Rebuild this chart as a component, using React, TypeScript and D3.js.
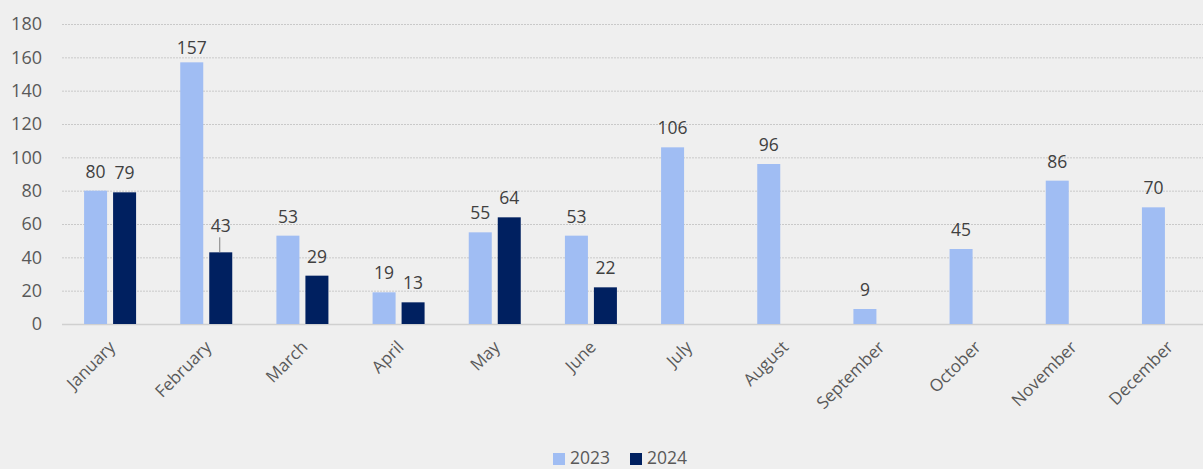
import React from "react";
import * as d3 from "d3";

const months = ["January","February","March","April","May","June","July","August","September","October","November","December"];
const values2023 = [80,157,53,19,55,53,106,96,9,45,86,70];
const values2024: (number | null)[] = [79,43,29,13,64,22,null,null,null,null,null,null];
const yTicks = [0,20,40,60,80,100,120,140,160,180];
const seriesNames = ["2023","2024"];
const colors = ["#a0bdf3","#002060"];

const W = 1203, H = 469;
const left = 62, right = 1216, top = 24, bottom = 324;

export default function App() {
  const x = d3.scaleBand<string>().domain(months).range([left, right]).paddingInner(0).paddingOuter(0);
  const y = d3.scaleLinear().domain([0, 180]).range([bottom, top]);
  const bw = 23, gap = 6;
  const font = "'Open Sans', sans-serif";
  const series = [values2023, values2024];
  return (
    <svg width={W} height={H} style={{ position: "absolute", left: 0, top: 0, background: "#efefef" }} fontFamily={font}>
      <rect x={0} y={0} width={W} height={H} fill="#efefef" />
      {yTicks.map(t => (
        <g key={t}>
          {t > 0 && <line x1={left} x2={W} y1={y(t) + 0.5} y2={y(t) + 0.5} stroke="#c9c9c9" strokeWidth={1} strokeDasharray="2,1" />}
          <text x={42} y={y(t)} dy="0.35em" textAnchor="end" fontSize={18} fill="#595959">{t}</text>
        </g>
      ))}
      <line x1={left} x2={W} y1={bottom + 0.5} y2={bottom + 0.5} stroke="#d0d0d0" strokeWidth={1.5} />
      {months.map((m, i) => {
        const cx = (x(m) as number) + x.bandwidth() / 2;
        return (
          <g key={m}>
            {series.map((s, k) => {
              const v = s[i];
              if (v == null) return null;
              const bx = k === 0 ? cx - gap / 2 - bw : cx + gap / 2;
              const lx = bx + bw / 2;
              const special = k === 1 && i === 1;
              const ly = special ? y(v) - 20 : Math.max(y(v) - 13, 54);
              return (
                <g key={k}>
                  <rect x={bx} y={y(v)} width={bw} height={bottom - y(v)} fill={colors[k]} />
                  {special && <line x1={lx - 1} x2={lx - 1} y1={y(v)} y2={y(v) - 15} stroke="#7f7f7f" strokeWidth={1} />}
                  <text x={lx} y={ly} textAnchor="middle" fontSize={17.5} fill="#404040">{v}</text>
                </g>
              );
            })}
            <text transform={`translate(${cx + 2},${bottom + 20}) rotate(-45)`} textAnchor="end" fontSize={17} fill="#595959" dy="0.35em">{m}</text>
          </g>
        );
      })}
      {seriesNames.map((n, k) => {
        const lx = 553 + k * 77;
        return (
          <g key={n}>
            <rect x={lx} y={453} width={12} height={12} fill={colors[k]} />
            <text x={lx + 17} y={464} fontSize={17.5} fill="#595959">{n}</text>
          </g>
        );
      })}
    </svg>
  );
}
